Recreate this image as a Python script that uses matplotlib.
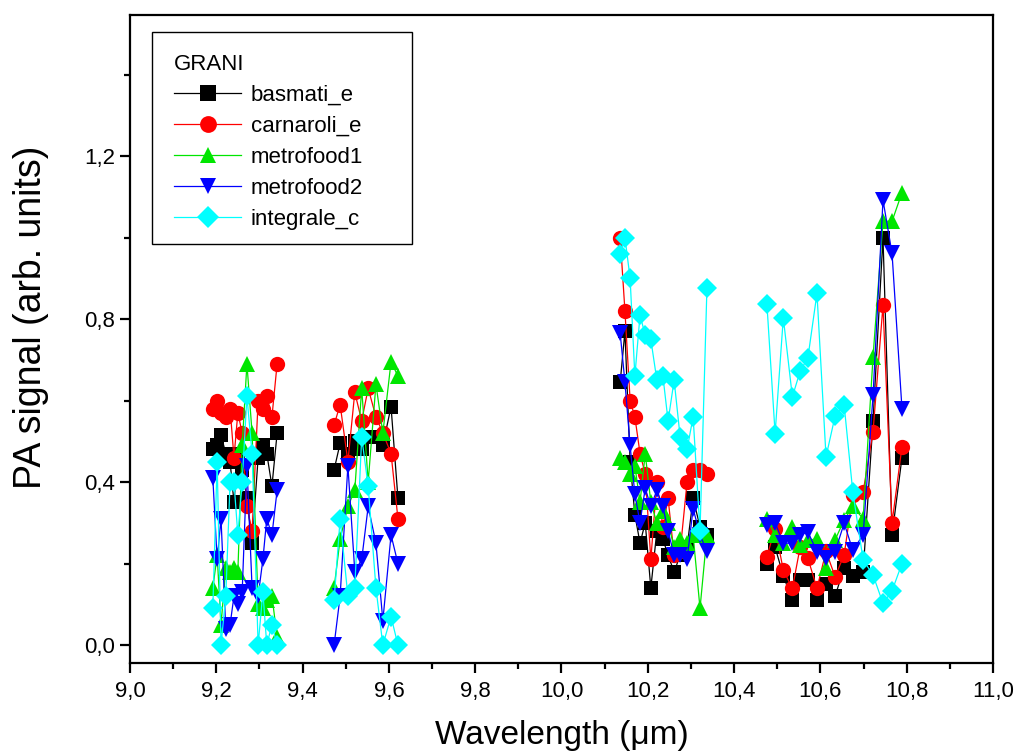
import numpy as np
import matplotlib
matplotlib.use("Agg")
import matplotlib.pyplot as plt
from matplotlib.ticker import MultipleLocator, FuncFormatter
from matplotlib.patches import Rectangle

plt.rcParams['font.family'] = ['Liberation Sans', 'DejaVu Sans']

# ---- data (wavelength in um, PA signal in arb. units) ----
x1 = [9.192, 9.202, 9.211, 9.222, 9.232, 9.241, 9.250, 9.260, 9.271, 9.283, 9.297, 9.308, 9.317, 9.329, 9.341]
x2 = [9.473, 9.487, 9.505, 9.521, 9.537, 9.552, 9.570, 9.586, 9.605, 9.621]
x3 = [10.136, 10.147, 10.159, 10.170, 10.182, 10.194, 10.207, 10.221, 10.235, 10.247, 10.261, 10.275, 10.291, 10.305, 10.321, 10.337]
x4 = [10.476, 10.495, 10.514, 10.535, 10.553, 10.571, 10.592, 10.613, 10.634, 10.655, 10.675, 10.699, 10.722, 10.745, 10.766, 10.789]

basmati_1 = [0.48, 0.49, 0.515, 0.47, 0.45, 0.35, 0.47, 0.43, 0.36, 0.25, 0.46, 0.49, 0.47, 0.39, 0.52]
basmati_2 = [0.43, 0.495, 0.47, 0.50, 0.48, 0.51, 0.51, 0.49, 0.585, 0.36]
basmati_3 = [0.645, 0.77, 0.45, 0.32, 0.25, 0.30, 0.14, 0.28, 0.26, 0.22, 0.18, 0.22, 0.24, 0.36, 0.29, 0.27]
basmati_4 = [0.20, 0.24, 0.17, 0.11, 0.16, 0.16, 0.11, 0.15, 0.12, 0.19, 0.17, 0.18, 0.55, 1.0, 0.27, 0.46]

carnaroli_1 = [0.58, 0.60, 0.57, 0.56, 0.58, 0.46, 0.57, 0.52, 0.34, 0.28, 0.60, 0.58, 0.61, 0.56, 0.69]
carnaroli_2 = [0.54, 0.59, 0.45, 0.62, 0.55, 0.63, 0.56, 0.52, 0.47, 0.31]
carnaroli_3 = [1.0, 0.82, 0.60, 0.56, 0.47, 0.42, 0.21, 0.40, 0.29, 0.36, 0.22, 0.23, 0.40, 0.43, 0.43, 0.42]
carnaroli_4 = [0.217, 0.286, 0.184, 0.139, 0.24, 0.213, 0.139, 0.23, 0.168, 0.221, 0.368, 0.376, 0.524, 0.834, 0.30, 0.487]

metrofood1_1 = [0.14, 0.22, 0.05, 0.19, 0.18, 0.19, 0.18, 0.49, 0.69, 0.52, 0.10, 0.09, 0.11, 0.12, 0.02]
metrofood1_2 = [0.14, 0.26, 0.34, 0.38, 0.63, 0.40, 0.64, 0.52, 0.695, 0.66]
metrofood1_3 = [0.46, 0.45, 0.42, 0.44, 0.35, 0.47, 0.35, 0.30, 0.33, 0.30, 0.24, 0.26, 0.25, 0.27, 0.09, 0.27]
metrofood1_4 = [0.31, 0.27, 0.25, 0.29, 0.245, 0.258, 0.26, 0.19, 0.258, 0.307, 0.34, 0.31, 0.708, 1.04, 1.04, 1.11]

metrofood2_1 = [0.41, 0.21, 0.31, 0.04, 0.05, 0.12, 0.10, 0.13, 0.44, 0.14, 0.12, 0.21, 0.31, 0.27, 0.38]
metrofood2_2 = [0.0, 0.12, 0.44, 0.18, 0.21, 0.34, 0.25, 0.06, 0.27, 0.20]
metrofood2_3 = [0.765, 0.645, 0.49, 0.37, 0.30, 0.385, 0.34, 0.38, 0.34, 0.28, 0.22, 0.22, 0.21, 0.335, 0.27, 0.23]
metrofood2_4 = [0.294, 0.30, 0.25, 0.25, 0.27, 0.278, 0.229, 0.213, 0.229, 0.299, 0.233, 0.27, 0.613, 1.092, 0.961, 0.58]

integrale_1 = [0.09, 0.45, 0.0, 0.12, 0.40, 0.40, 0.27, 0.40, 0.61, 0.47, 0.0, 0.13, 0.0, 0.05, 0.0]
integrale_2 = [0.11, 0.31, 0.12, 0.14, 0.51, 0.39, 0.14, 0.0, 0.07, 0.0]
integrale_3 = [0.96, 1.0, 0.90, 0.66, 0.81, 0.76, 0.75, 0.65, 0.66, 0.55, 0.65, 0.51, 0.48, 0.56, 0.28, 0.875]
integrale_4 = [0.837, 0.519, 0.803, 0.609, 0.672, 0.705, 0.863, 0.462, 0.562, 0.589, 0.376, 0.209, 0.172, 0.102, 0.133, 0.20]

labels = ["basmati_e", "carnaroli_e", "metrofood1", "metrofood2", "integrale_c"]
colors = ["#000000", "#FF0000", "#00E600", "#0000FF", "#00FFFF"]
markers = ["s", "o", "^", "v", "D"]
msizes = [10, 11, 11, 11, 10]

series = [
    [basmati_1, basmati_2, basmati_3, basmati_4],
    [carnaroli_1, carnaroli_2, carnaroli_3, carnaroli_4],
    [metrofood1_1, metrofood1_2, metrofood1_3, metrofood1_4],
    [metrofood2_1, metrofood2_2, metrofood2_3, metrofood2_4],
    [integrale_1, integrale_2, integrale_3, integrale_4],
]
xs = [x1, x2, x3, x4]


def join(parts):
    out = []
    for i, p in enumerate(parts):
        if i:
            out.append(np.nan)
        out.extend(p)
    return np.array(out, dtype=float)


X = join(xs)

fig = plt.figure(figsize=(10.21, 7.54), dpi=100)
ax = fig.add_axes([0.1273, 0.1207, 0.8453, 0.8594])

for s, lab, c, m, ms in zip(series, labels, colors, markers, msizes):
    ax.plot(X, join(s), color=c, marker=m, markersize=ms, markeredgewidth=0,
            linewidth=0.9, label=lab)

ax.set_xlim(9.0, 11.0)
ax.set_ylim(-0.044, 1.546)
ax.xaxis.set_major_locator(MultipleLocator(0.2))
ax.xaxis.set_minor_locator(MultipleLocator(0.1))
ax.yaxis.set_major_locator(MultipleLocator(0.4))
ax.yaxis.set_minor_locator(MultipleLocator(0.2))
fmt = FuncFormatter(lambda v, p: ("%.1f" % v).replace(".", ","))
ax.xaxis.set_major_formatter(fmt)
ax.yaxis.set_major_formatter(fmt)

for sp in ax.spines.values():
    sp.set_linewidth(1.6)
ax.tick_params(which="major", direction="out", length=7, width=1.6, labelsize=16)
ax.tick_params(axis="x", which="major", pad=6)
ax.tick_params(which="minor", direction="out", length=4, width=1.6)
ax.tick_params(top=False, right=False, which="both")

ax.set_xlabel("Wavelength (μm)", fontsize=24, labelpad=13)
ax.set_ylabel("PA signal (arb. units)", fontsize=27)
ax.yaxis.set_label_coords(-0.094, 0.534)

# legend box (drawn separately to match the wide frame)
ax.add_patch(Rectangle((0.0255, 0.647), 0.3015, 0.327, transform=ax.transAxes,
                       facecolor="white", edgecolor="black", linewidth=1.0, zorder=4))
leg = ax.legend(loc="upper left", bbox_to_anchor=(0.0255, 0.974), title="GRANI",
                fontsize=16, title_fontsize=16, frameon=False,
                handlelength=3.0, labelspacing=0.45, borderpad=1.0,
                handletextpad=0.45, alignment="left", borderaxespad=0,
                markerscale=1.1)
leg.set_zorder(5)

fig.savefig("out.png", dpi=100)
